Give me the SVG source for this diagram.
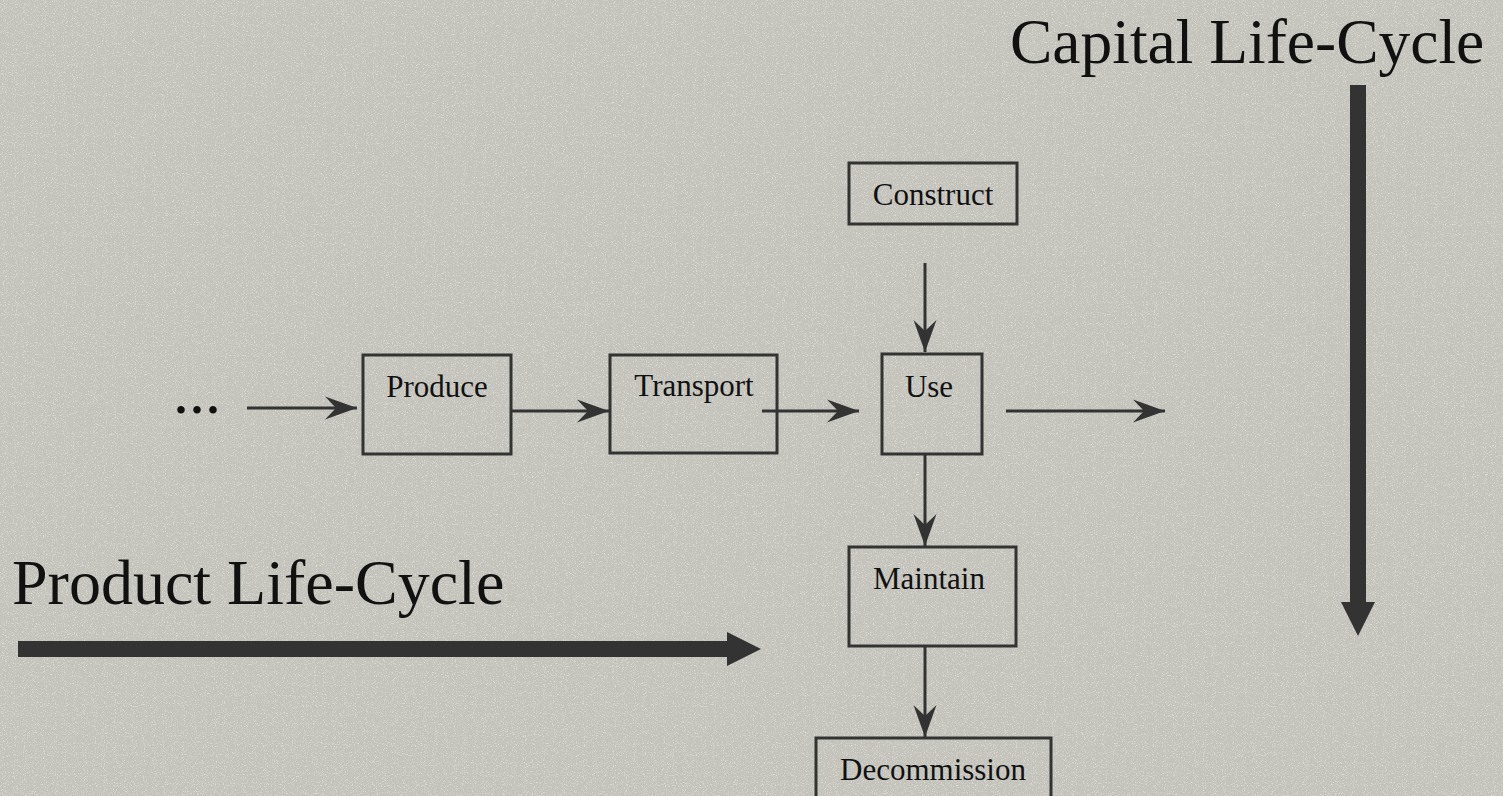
<svg xmlns="http://www.w3.org/2000/svg" width="1503" height="796" viewBox="0 0 1503 796">
<defs>
<style>
.box{fill:none;stroke:#333333;stroke-width:3}
.lbl{font-family:"Liberation Serif","Times New Roman",serif;font-size:31px;fill:#111111;text-anchor:middle}
.big{font-family:"Liberation Serif","Times New Roman",serif;fill:#111111}
.con{stroke:#333333;stroke-width:3;fill:none;marker-end:url(#ah)}
.fat{fill:#333333}
</style>
<marker id="ah" markerUnits="userSpaceOnUse" viewBox="-33 -12 34 24" refX="0" refY="0" markerWidth="34" markerHeight="24" orient="auto">
<path d="M0,0 L-32,-11.5 L-21,0 L-32,11.5 Z" fill="#333333"/>
</marker>
<filter id="grain" x="0" y="0" width="100%" height="100%">
<feTurbulence type="fractalNoise" baseFrequency="0.9" numOctaves="2" seed="4"/>
<feColorMatrix type="matrix" values="0 0 0 0 0.85  0 0 0 0 0.85  0 0 0 0 0.82  4 0 0 0 -2.1"/>
</filter>
</defs>
<rect x="0" y="0" width="1503" height="796" fill="#c3c3bb"/>
<rect x="0" y="0" width="1503" height="796" filter="url(#grain)" opacity="0.6"/>

<g id="connectors">
<line class="con" x1="247" y1="408" x2="357" y2="408"/>
<line class="con" x1="511" y1="411" x2="609" y2="411"/>
<line class="con" x1="762" y1="411" x2="859" y2="411"/>
<line class="con" x1="1006" y1="411" x2="1165" y2="411"/>
<line class="con" x1="925" y1="263" x2="925" y2="352"/>
<line class="con" x1="925" y1="454" x2="925" y2="546"/>
<line class="con" x1="925" y1="646" x2="925" y2="737"/>
</g>

<g id="dots"><text class="big" x="173" y="413" style="font-size:64px">...</text></g>

<g id="produce"><rect class="box" x="363" y="355" width="148" height="99"/><text class="lbl" x="437" y="397">Produce</text></g>
<g id="transport"><rect class="box" x="610" y="355" width="167" height="98"/><text class="lbl" x="694" y="396">Transport</text></g>
<g id="use"><rect class="box" x="882" y="354" width="100" height="100"/><text class="lbl" x="929" y="397">Use</text></g>
<g id="construct"><rect class="box" x="849" y="163" width="168" height="61"/><text class="lbl" x="933" y="205">Construct</text></g>
<g id="maintain"><rect class="box" x="849" y="547" width="167" height="99"/><text class="lbl" x="929" y="589">Maintain</text></g>
<g id="decommission"><rect class="box" x="816" y="738" width="235" height="80"/><text class="lbl" x="933" y="780">Decommission</text></g>

<g id="product-lifecycle">
<text class="big" x="12" y="604" style="font-size:64px">Product Life-Cycle</text>
<rect class="fat" x="18" y="641" width="710" height="16"/>
<path class="fat" d="M727,632 L761,649 L727,666 Z"/>
</g>
<g id="capital-lifecycle">
<text class="big" x="1010" y="63" style="font-size:63.5px">Capital Life-Cycle</text>
<rect class="fat" x="1350" y="85" width="16" height="518"/>
<path class="fat" d="M1341,602 L1375,602 L1358,636 Z"/>
</g>
</svg>
